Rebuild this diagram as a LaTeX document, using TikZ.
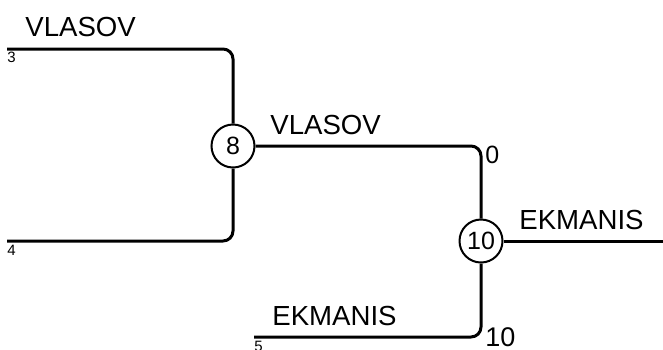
\documentclass[tikz,border=0pt]{standalone}
\usepackage{fontspec}
\setmainfont{Liberation Sans}
\usetikzlibrary{calc}

\begin{document}
\begin{tikzpicture}[x=0.5pt,y=-0.5pt,
	match/.style={circle,draw,line width=1pt,minimum size=21.5pt,inner sep=0pt,fill=white,font=\fontsize{12.5}{14}\selectfont},
	wire/.style={line width=1.5pt,rounded corners=5pt},
	player/.style={anchor=base west,inner sep=0pt,font=\fontsize{13.8}{16}\selectfont},
	seed/.style={anchor=north west,inner sep=0pt,font=\fontsize{7.5}{8}\selectfont},
	score/.style={anchor=north west,inner sep=0pt}]
			\useasboundingbox (0,0) rectangle (663,349);
			\coordinate (s3) at (7,49);
			\coordinate (s4) at (7,241);
			\coordinate (s5) at (254,337);
			\coordinate (win) at (663,241);
			\node[match] (m8) at (233,146) {8};
			\node[match] (m10) at (481,241) {10};
			\draw[wire] (s3) -| (m8);
			\draw[wire] (s4) -| (m8);
			\draw[wire] (m8) -| (m10);
			\draw[wire] (s5) -| (m10);
			\draw[wire] (m10) -- (win);
			\node[player] at (25,36) {VLASOV};
			\node[player] at (270,134) {VLASOV};
			\node[player] at (519,229) {EKMANIS};
			\node[player] at (272,325) {EKMANIS};
			\node[seed] at (7,52) {3};
			\node[seed] at (7,245) {4};
			\node[seed] at (254,341) {5};
			\node[score,font=\fontsize{12.5}{14}\selectfont] at (485,146) {0};
			\node[score,font=\fontsize{13.5}{15}\selectfont] at (485,327) {10};
\end{tikzpicture}
\end{document}
